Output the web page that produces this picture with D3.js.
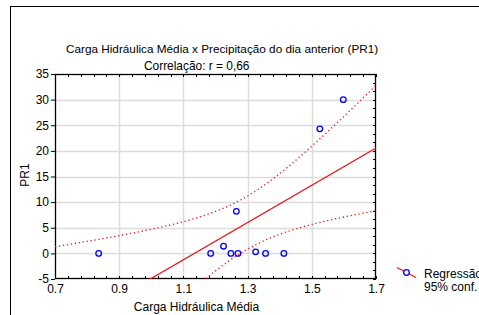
<!DOCTYPE html>
<html><head><meta charset="utf-8">
<script src="https://cdn.jsdelivr.net/npm/d3@7"></script>
<style>
html,body{margin:0;padding:0;background:#fff;}
svg{display:block;font-family:"Liberation Sans",Arial,sans-serif;}
</style></head>
<body>
<svg id="c" width="479" height="315"></svg>
<script>
// ---- data ----
const xValues = [0.836, 1.185, 1.225, 1.248, 1.265, 1.270, 1.325, 1.356, 1.413, 1.525, 1.598];
const yValues = [0, 0, 1.4, 0, 8.2, 0, 0.3, 0, 0, 24.3, 30];
const xTicks = [0.7, 0.9, 1.1, 1.3, 1.5, 1.7];
const yTicks = [-5, 0, 5, 10, 15, 20, 25, 30, 35];
const titleText = "Carga Hidráulica Média x Precipitação do dia anterior (PR1)";
const subtitleText = "Correlação: r = 0,66";
const xLabel = "Carga Hidráulica Média";
const yLabel = "PR1";
const legendLabels = ["Regressão", "95% conf."];
const confMultiplier = 2.0;

const svg = d3.select("#c");
const L = 55, R = 376, T = 74, B = 279;
const x = d3.scaleLinear().domain([0.7, 1.7]).range([L, R]);
const y = d3.scaleLinear().domain([-5, 35]).range([B, T]);

// outer frame
svg.append("rect").attr("x", 10.5).attr("y", 6.5).attr("width", 500).attr("height", 340)
  .attr("fill", "none").attr("stroke", "#000").attr("stroke-width", 1);

// titles
svg.append("text").attr("x", 66).attr("y", 52.5).attr("font-size", 11.75).attr("fill", "#000").text(titleText);
svg.append("text").attr("x", 144).attr("y", 69.5).attr("font-size", 11.9).attr("fill", "#000").text(subtitleText);

// gridlines
const g = svg.append("g");
g.selectAll(".gx").data(xTicks.slice(1, -1)).enter().append("line")
  .attr("x1", d => Math.round(x(d)) + 0.5).attr("x2", d => Math.round(x(d)) + 0.5)
  .attr("y1", T).attr("y2", B).attr("stroke", "#dcdcdc").attr("stroke-width", 1.5);
g.selectAll(".gy").data(yTicks.slice(1, -1)).enter().append("line")
  .attr("y1", d => Math.round(y(d)) + 0.5).attr("y2", d => Math.round(y(d)) + 0.5)
  .attr("x1", L).attr("x2", R).attr("stroke", "#dcdcdc").attr("stroke-width", 1.5);

// minor ticks
const xMinor = d3.range(0, 26).map(i => 0.7 + i * 0.04);
const yMinor = d3.range(0, 25).map(i => -5 + i * 5 / 3);
xMinor.forEach(v => {
  const px = Math.round(x(v)) + 0.5;
  svg.append("line").attr("x1", px).attr("x2", px).attr("y1", T).attr("y2", T + 3).attr("stroke", "#000");
  svg.append("line").attr("x1", px).attr("x2", px).attr("y1", B).attr("y2", B - 3).attr("stroke", "#000");
});
yMinor.forEach(v => {
  const py = Math.round(y(v)) + 0.5;
  svg.append("line").attr("x1", R).attr("x2", R - 3).attr("y1", py).attr("y2", py).attr("stroke", "#000");
});

// axes
const xAxis = d3.axisBottom(x).tickValues(xTicks).tickFormat(d3.format(".1f")).tickSize(3).tickPadding(2);
const yAxis = d3.axisLeft(y).tickValues(yTicks).tickFormat(d => String(d)).tickSize(4).tickPadding(2);
const ax = svg.append("g").attr("transform", `translate(0,${B})`).call(xAxis);
const ay = svg.append("g").attr("transform", `translate(${L},0)`).call(yAxis);
[ax, ay].forEach(a => {
  a.select(".domain").remove();
  a.selectAll("text").attr("font-size", 12).attr("fill", "#000").attr("font-family", "Liberation Sans, Arial, sans-serif");
  a.selectAll("line").attr("stroke", "#000");
});
ax.selectAll(".tick line").remove();

// plot frame
svg.append("rect").attr("x", L + 0.5).attr("y", T + 0.5).attr("width", R - L - 1).attr("height", B - T - 1)
  .attr("fill", "none").attr("stroke", "#000").attr("stroke-width", 1.3);

// regression
const n = xValues.length;
const mx = d3.mean(xValues), my = d3.mean(yValues);
let sxx = 0, sxy = 0;
xValues.forEach((xv, i) => { sxx += (xv - mx) ** 2; sxy += (xv - mx) * (yValues[i] - my); });
const slope = sxy / sxx, icpt = my - slope * mx;
let sse = 0;
xValues.forEach((xv, i) => { sse += (yValues[i] - (icpt + slope * xv)) ** 2; });
const s = Math.sqrt(sse / (n - 2));
const xs = d3.range(0, 101).map(i => 0.7 + i * 0.01);
const half = xv => confMultiplier * s * Math.sqrt(1 / n + (xv - mx) ** 2 / sxx);

svg.append("clipPath").attr("id", "clip").append("rect").attr("x", L).attr("y", T).attr("width", R - L).attr("height", B - T);
const pg = svg.append("g").attr("clip-path", "url(#clip)");
pg.append("line").attr("x1", x(0.7)).attr("y1", y(icpt + slope * 0.7)).attr("x2", x(1.7)).attr("y2", y(icpt + slope * 1.7))
  .attr("stroke", "#e8191c").attr("stroke-width", 1.3);
const lineGen = d3.line().x(d => x(d[0])).y(d => y(d[1]));
[1, -1].forEach(sg => {
  pg.append("path").attr("d", lineGen(xs.map(xv => [xv, icpt + slope * xv + sg * half(xv)])))
    .attr("fill", "none").attr("stroke", "#e8191c").attr("stroke-width", 1.3).attr("stroke-dasharray", "1.3,2.7");
});

// points
svg.selectAll(".pt").data(xValues).enter().append("circle")
  .attr("cx", d => x(d)).attr("cy", (d, i) => y(yValues[i])).attr("r", 2.8)
  .attr("fill", "none").attr("stroke", "#0000ff").attr("stroke-width", 1.3);

// axis labels
svg.append("text").attr("x", (L + R) / 2 - 19).attr("y", 311).attr("text-anchor", "middle").attr("font-size", 12).attr("fill", "#000").text(xLabel);
svg.append("text").attr("transform", "translate(29,175) rotate(-90)").attr("text-anchor", "middle").attr("font-size", 12).attr("fill", "#000").text(yLabel);

// legend
svg.append("line").attr("x1", 397).attr("y1", 267.5).attr("x2", 416).attr("y2", 277.5).attr("stroke", "#e8191c").attr("stroke-width", 1.3);
svg.append("circle").attr("cx", 406.5).attr("cy", 272.5).attr("r", 2.8).attr("fill", "#fff").attr("stroke", "#0000ff").attr("stroke-width", 1.3);
svg.append("text").attr("x", 424).attr("y", 278).attr("font-size", 12).attr("fill", "#000").text(legendLabels[0]);
svg.append("text").attr("x", 424).attr("y", 291).attr("font-size", 12).attr("fill", "#000").text(legendLabels[1]);
</script>
</body></html>
